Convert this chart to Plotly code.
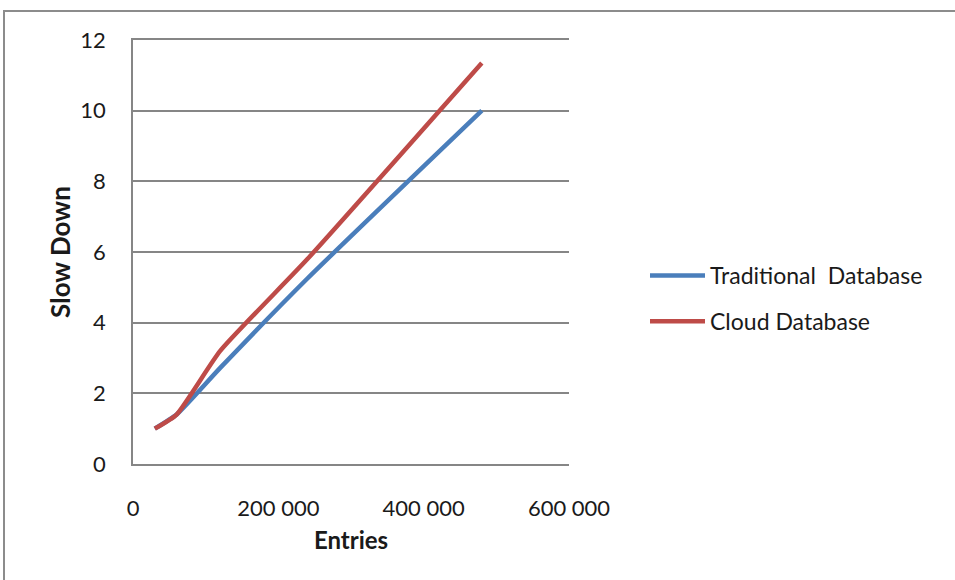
import plotly.graph_objects as go

entries = [30000, 60000, 120000, 240000, 480000]
traditional = [1.0, 1.4, 2.72, 5.25, 10.0]
cloud = [1.0, 1.4, 3.2, 5.8, 11.35]
series_names = ["Traditional  Database", "Cloud Database"]
x_ticks = [0, 200000, 400000, 600000]
y_ticks = [0, 2, 4, 6, 8, 10, 12]

W, H = 955, 580
L, R, T, B = 133, 386, 40, 116
pw, ph = W - L - R, H - T - B

fig = go.Figure()
for name, ys, col, grp in [(series_names[0], traditional, "#4A7EBB", "a"),
                           (series_names[1], cloud, "#BE4B48", "b")]:
    fig.add_trace(go.Scatter(x=entries, y=ys, name=name, mode="lines",
                             line=dict(color=col, width=4.5, shape="spline", smoothing=0.5),
                             legendgroup=grp))

font = "Lato, 'Open Sans', sans-serif"
fig.update_layout(
    width=W, height=H,
    margin=dict(l=L, r=R, t=T, b=B, pad=0),
    paper_bgcolor="white", plot_bgcolor="white",
    separators=". ",
    font=dict(family=font, size=22, color="#1a1a1a"),
    showlegend=True,
    legend=dict(x=(645 - L) / pw, y=(464 - 254) / ph, xanchor="left", yanchor="top",
                font=dict(size=23), tracegroupgap=13, itemwidth=55,
                bgcolor="rgba(0,0,0,0)"),
    xaxis=dict(range=[0, 600000], tickvals=x_ticks, tickformat=",d",
               showgrid=False, zeroline=False, showline=True, mirror=True,
               linecolor="#868686", linewidth=1.5,
               ticks="", ticklabelstandoff=24,
               title=dict(text="<b>Entries</b>", standoff=12, font=dict(size=24))),
    yaxis=dict(range=[0, 12], tickvals=y_ticks, showgrid=True, gridcolor="#868686",
               gridwidth=1.5, zeroline=False, showline=True, linecolor="#868686",
               linewidth=1.5, ticks="", ticklabelstandoff=21,
               title=dict(text="<b>Slow Down</b>", standoff=2, font=dict(size=26))),
    shapes=[dict(type="rect", xref="paper", yref="paper",
                 x0=(4 - L) / pw, x1=(962 - L) / pw,
                 y0=(464 - 590) / ph, y1=(464 - 11) / ph,
                 line=dict(color="#8c8c8c", width=2), fillcolor="rgba(0,0,0,0)",
                 layer="below")],
)
fig.write_html("out.html", config={"displayModeBar": False},
               post_script="document.body.style.margin='0';")
